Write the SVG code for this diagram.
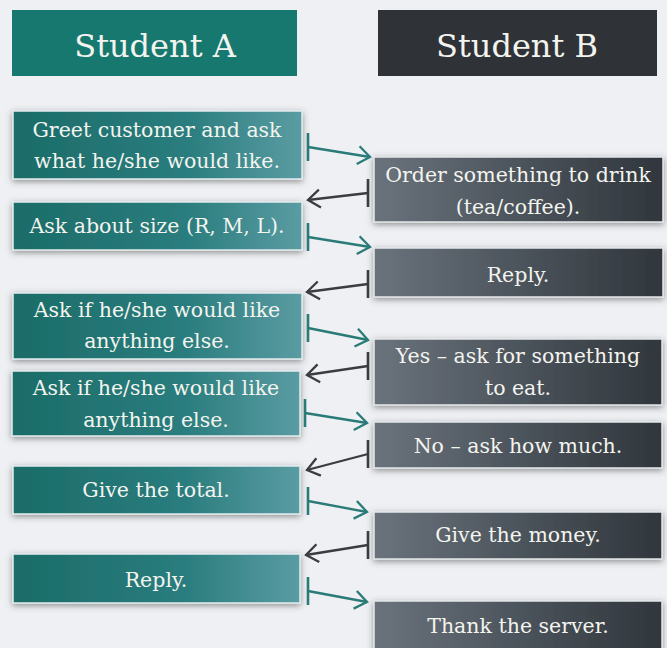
<svg xmlns="http://www.w3.org/2000/svg" width="667" height="648" viewBox="0 0 667 648">
<defs>
<linearGradient id="gA" x1="0" y1="0" x2="1" y2="0"><stop offset="0" stop-color="#1b6c68"/><stop offset="0.6" stop-color="#2a7d7e"/><stop offset="1" stop-color="#5a9ca3"/></linearGradient>
<linearGradient id="gB" x1="0" y1="0" x2="1" y2="0"><stop offset="0" stop-color="#6a737c"/><stop offset="0.5" stop-color="#4c545c"/><stop offset="1" stop-color="#30363c"/></linearGradient>
<filter id="sh" x="-10%" y="-30%" width="120%" height="160%"><feDropShadow dx="0" dy="2" stdDeviation="3" flood-color="#444" flood-opacity="0.55"/></filter>
<marker id="tickT" markerUnits="userSpaceOnUse" markerWidth="6" markerHeight="32" refX="3" refY="16" orient="0" viewBox="0 0 6 32"><line x1="3" y1="2" x2="3" y2="30" stroke="#2a7b78" stroke-width="2.6"/></marker>
<marker id="tickD" markerUnits="userSpaceOnUse" markerWidth="6" markerHeight="32" refX="3" refY="16" orient="0" viewBox="0 0 6 32"><line x1="3" y1="2" x2="3" y2="30" stroke="#3a3d40" stroke-width="2.6"/></marker>
<marker id="headT" markerUnits="userSpaceOnUse" markerWidth="16" markerHeight="22" refX="14" refY="11" orient="auto" viewBox="0 0 16 22"><path d="M2,2 L14,11 L2,20" fill="none" stroke="#2a7b78" stroke-width="2.3"/></marker>
<marker id="headD" markerUnits="userSpaceOnUse" markerWidth="16" markerHeight="22" refX="14" refY="11" orient="auto" viewBox="0 0 16 22"><path d="M2,2 L14,11 L2,20" fill="none" stroke="#3a3d40" stroke-width="2.3"/></marker>
</defs>
<style>
.a{fill:url(#gA);stroke:#e4ecee;stroke-width:1.5;filter:url(#sh)}
.b{fill:url(#gB);stroke:#e4e8ea;stroke-width:1.5;filter:url(#sh)}
.t{font-family:"DejaVu Serif","Liberation Serif",serif;font-size:20.5px;fill:#f4f4ef;text-anchor:middle}
.h{font-family:"DejaVu Serif","Liberation Serif",serif;font-size:32px;fill:#f4f4ef;text-anchor:middle}
.ft{fill:none;stroke:#2a7b78;stroke-width:2.3;marker-start:url(#tickT);marker-end:url(#headT)}
.bk{fill:none;stroke:#3a3d40;stroke-width:2.3;marker-start:url(#tickD);marker-end:url(#headD)}
</style>
<rect width="667" height="648" fill="#eef0f3"/>
<g id="headerA"><rect x="12" y="10" width="285" height="66" fill="#177870"/><text class="h" x="155" y="57">Student A</text></g>
<g id="headerB"><rect x="378" y="10" width="279" height="66" fill="#2f3337"/><text class="h" x="517" y="57">Student B</text></g>

<g id="a1"><rect class="a" x="13" y="111" width="289" height="68"/><text class="t" x="157" y="137">Greet customer and ask</text><text class="t" x="157" y="168">what he/she would like.</text></g>
<g id="a2"><rect class="a" x="13" y="202" width="289" height="48"/><text class="t" x="157" y="233">Ask about size (R, M, L).</text></g>
<g id="a3"><rect class="a" x="13" y="293" width="289" height="66"/><text class="t" x="157" y="317">Ask if he/she would like</text><text class="t" x="157" y="348">anything else.</text></g>
<g id="a4"><rect class="a" x="12" y="371" width="288" height="65"/><text class="t" x="156" y="395">Ask if he/she would like</text><text class="t" x="156" y="427">anything else.</text></g>
<g id="a5"><rect class="a" x="13" y="466" width="287" height="48"/><text class="t" x="156" y="497">Give the total.</text></g>
<g id="a6"><rect class="a" x="13" y="554" width="287" height="49"/><text class="t" x="156" y="587">Reply.</text></g>

<g id="b1"><rect class="b" x="374" y="157" width="289" height="65"/><text class="t" x="518" y="182">Order something to drink</text><text class="t" x="518" y="214">(tea/coffee).</text></g>
<g id="b2"><rect class="b" x="374" y="248" width="289" height="49"/><text class="t" x="518" y="282">Reply.</text></g>
<g id="b3"><rect class="b" x="374" y="339" width="288" height="66"/><text class="t" x="518" y="363">Yes – ask for something</text><text class="t" x="518" y="395">to eat.</text></g>
<g id="b4"><rect class="b" x="374" y="422" width="288" height="46"/><text class="t" x="518" y="453">No – ask how much.</text></g>
<g id="b5"><rect class="b" x="374" y="512" width="288" height="47"/><text class="t" x="518" y="542">Give the money.</text></g>
<g id="b6"><rect class="b" x="374" y="601" width="288" height="52"/><text class="t" x="518" y="633">Thank the server.</text></g>

<g id="connectors">
<path class="ft" d="M308,147 L370,157"/>
<path class="bk" d="M368,193 L308,200"/>
<path class="ft" d="M308,237 L370,247"/>
<path class="bk" d="M368,284 L307,292"/>
<path class="ft" d="M308,328 L368,340"/>
<path class="bk" d="M368,366 L307,375"/>
<path class="ft" d="M305,413 L367,423"/>
<path class="bk" d="M368,454 L307,470"/>
<path class="ft" d="M308,501 L367,512"/>
<path class="bk" d="M368,545 L306,555"/>
<path class="ft" d="M308,591 L367,602"/>
</g>
</svg>
